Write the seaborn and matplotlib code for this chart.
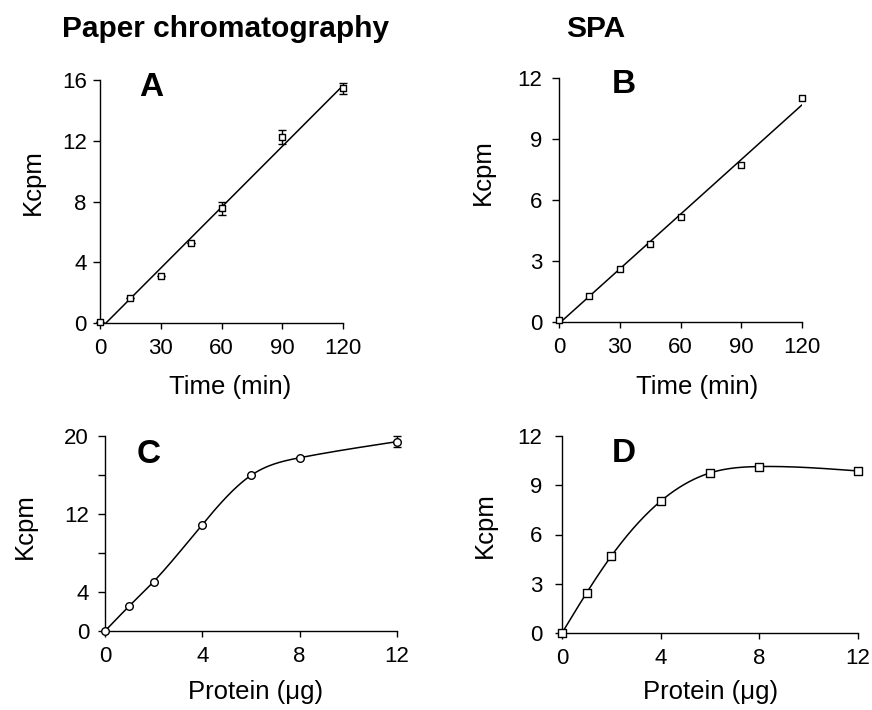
import numpy as np
import pandas as pd
import matplotlib
matplotlib.use("Agg")
import matplotlib.pyplot as plt
import seaborn as sns

# ---------------- data ----------------
time_min = [0, 15, 30, 45, 60, 90, 120]
a_kcpm = [0.05, 1.65, 3.08, 5.30, 7.54, 12.26, 15.45]
a_err = [0, 0, 0, 0, 0.40, 0.45, 0.35]
b_kcpm = [0.10, 1.30, 2.63, 3.83, 5.15, 7.71, 11.0]

protein_ug = [0, 1, 2, 4, 6, 8, 12]
c_kcpm = [0.0, 2.57, 5.07, 10.92, 15.96, 17.77, 19.42]
c_err = [0, 0, 0, 0, 0, 0, 0.55]
d_kcpm = [0.0, 2.45, 4.69, 8.03, 9.75, 10.14, 9.87]

time_ticks = [0, 30, 60, 90, 120]
protein_ticks = [0, 4, 8, 12]
a_yticks = [0, 4, 8, 12, 16]
b_yticks = [0, 3, 6, 9, 12]
c_yticks = [0, 4, 8, 12, 16, 20]
c_yticklabels = ["0", "4", "", "12", "", "20"]
d_yticks = [0, 3, 6, 9, 12]

# ---------------- style ----------------
sns.set_theme(style="ticks")
plt.rcParams["font.family"] = ["Liberation Sans", "DejaVu Sans"]
plt.rcParams["axes.linewidth"] = 1.0
plt.rcParams["xtick.major.width"] = 1.0
plt.rcParams["ytick.major.width"] = 1.0
plt.rcParams["text.color"] = "black"
plt.rcParams["axes.labelcolor"] = "black"
plt.rcParams["xtick.color"] = "black"
plt.rcParams["ytick.color"] = "black"
plt.rcParams["axes.edgecolor"] = "black"

W, H = 872, 710
fig = plt.figure(figsize=(W / 100, H / 100), dpi=100)

TICK_FS = 16
LABEL_FS = 18.5
LETTER_FS = 24
TITLE_FS = 21.5


def px_axes(left, right, top, bottom):
    return fig.add_axes([left / W, 1 - bottom / H, (right - left) / W, (bottom - top) / H])


def natural_spline(x, y, n=300):
    x = np.asarray(x, float)
    y = np.asarray(y, float)
    k = len(x)
    h = np.diff(x)
    A = np.zeros((k, k))
    r = np.zeros(k)
    A[0, 0] = 1
    A[-1, -1] = 1
    for i in range(1, k - 1):
        A[i, i - 1] = h[i - 1]
        A[i, i] = 2 * (h[i - 1] + h[i])
        A[i, i + 1] = h[i]
        r[i] = 6 * ((y[i + 1] - y[i]) / h[i] - (y[i] - y[i - 1]) / h[i - 1])
    M = np.linalg.solve(A, r)
    xs = np.linspace(x[0], x[-1], n)
    idx = np.clip(np.searchsorted(x, xs) - 1, 0, k - 2)
    x0, x1 = x[idx], x[idx + 1]
    hh = x1 - x0
    t0 = x1 - xs
    t1 = xs - x0
    ys = (M[idx] * t0 ** 3 / (6 * hh) + M[idx + 1] * t1 ** 3 / (6 * hh)
          + (y[idx] / hh - M[idx] * hh / 6) * t0
          + (y[idx + 1] / hh - M[idx + 1] * hh / 6) * t1)
    return xs, ys


def style_axes(ax, xticks, yticks, xlim, ylim, ylabel, xlabel, ypad, ylab_xy, xlab_xy,
               yticklabels=None):
    sns.despine(ax=ax)
    ax.set_xlim(*xlim)
    ax.set_ylim(*ylim)
    ax.set_xticks(xticks)
    ax.set_xticklabels([str(t) for t in xticks])
    ax.set_yticks(yticks)
    ax.set_yticklabels(yticklabels if yticklabels is not None else [str(t) for t in yticks])
    ax.tick_params(axis="x", direction="out", length=4, width=1, pad=7,
                   labelsize=TICK_FS, colors="black")
    ax.tick_params(axis="y", direction="out", length=5, width=1, pad=ypad,
                   labelsize=TICK_FS, colors="black")
    ax.set_ylabel(ylabel, fontsize=LABEL_FS, color="black")
    ax.set_xlabel(xlabel, fontsize=LABEL_FS, color="black")
    ax.yaxis.set_label_coords(*ylab_xy)
    ax.xaxis.set_label_coords(*xlab_xy)
    for s in ax.spines.values():
        s.set_color("black")
    ax.set_facecolor("white")


def markers(ax, x, y, marker, size):
    sns.scatterplot(x=x, y=y, ax=ax, marker=marker, s=size, color="white",
                    edgecolor="black", linewidth=1.0, zorder=4, clip_on=False, legend=False)


def letter(ax, x, y, s):
    ax.text(x, y, s, transform=ax.transAxes, fontsize=LETTER_FS, fontweight="bold",
            va="baseline", ha="left", color="black")


# ---------------- panel A ----------------
axA = px_axes(100, 343, 80, 323)
dfA = pd.DataFrame({"t": time_min, "k": a_kcpm})
sns.regplot(data=dfA, x="t", y="k", ax=axA, scatter=False, ci=None, color="black",
            line_kws={"lw": 1.1})
axA.errorbar(time_min, a_kcpm, yerr=a_err, fmt="none", ecolor="black",
             elinewidth=1, capsize=3, capthick=1, zorder=3, clip_on=False)
markers(axA, time_min, a_kcpm, "s", 25)
style_axes(axA, time_ticks, a_yticks, (0, 120), (0, 16), "Kcpm", "Time (min)", 4.5,
           (-0.228, 0.58), (0.535, -0.215))
letter(axA, 0.160, 0.935, "A")

# ---------------- panel B ----------------
axB = px_axes(559, 802, 78, 322)
dfB = pd.DataFrame({"t": time_min, "k": b_kcpm})
sns.regplot(data=dfB, x="t", y="k", ax=axB, scatter=False, ci=None, color="black",
            line_kws={"lw": 1.1})
markers(axB, time_min, b_kcpm, "s", 25)
style_axes(axB, time_ticks, b_yticks, (0, 120), (0, 12), "Kcpm", "Time (min)", 7,
           (-0.262, 0.615), (0.568, -0.218))
letter(axB, 0.218, 0.937, "B")

# ---------------- panel C ----------------
axC = px_axes(105, 397, 436, 631)
xs, ys = natural_spline(protein_ug, c_kcpm)
sns.lineplot(x=xs, y=ys, ax=axC, color="black", lw=1.1, sort=False, estimator=None)
axC.errorbar(protein_ug, c_kcpm, yerr=c_err, fmt="none", ecolor="black",
             elinewidth=1, capsize=3, capthick=1, zorder=3, clip_on=False)
markers(axC, protein_ug, c_kcpm, "o", 30)
style_axes(axC, protein_ticks, c_yticks, (0, 12), (0, 20), "Kcpm", "Protein (μg)", 6.5,
           (-0.233, 0.54), (0.514, -0.25), yticklabels=c_yticklabels)
letter(axC, 0.110, 0.86, "C")

# ---------------- panel D ----------------
axD = px_axes(562, 858, 436, 633)
xs, ys = natural_spline(protein_ug, d_kcpm)
sns.lineplot(x=xs, y=ys, ax=axD, color="black", lw=1.1, sort=False, estimator=None)
markers(axD, protein_ug, d_kcpm, "s", 30)
style_axes(axD, protein_ticks, d_yticks, (0, 12), (0, 12), "Kcpm", "Protein (μg)", 9,
           (-0.22, 0.55), (0.503, -0.24))
letter(axD, 0.168, 0.866, "D")

# ---------------- titles ----------------
fig.text(62 / W, 1 - 37 / H, "Paper chromatography", fontsize=TITLE_FS, fontweight="bold",
         ha="left", va="baseline", color="black")
fig.text(566 / W, 1 - 37 / H, "SPA", fontsize=TITLE_FS, fontweight="bold",
         ha="left", va="baseline", color="black")

fig.savefig("out.png", dpi=100, facecolor="white")
